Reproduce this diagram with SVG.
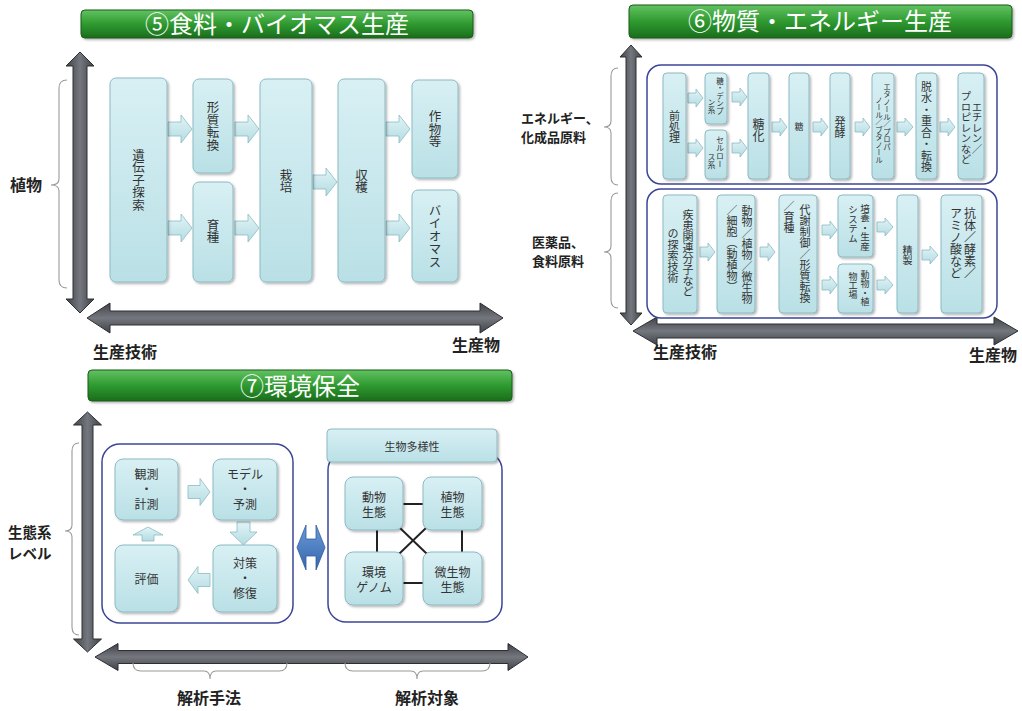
<svg xmlns="http://www.w3.org/2000/svg" width="1022" height="711" viewBox="0 0 1022 711">
<defs>
<linearGradient id="gBox" x1="0" y1="0" x2="0" y2="1"><stop offset="0" stop-color="#d8f0f4"/><stop offset="1" stop-color="#b9e0e6"/></linearGradient>
<linearGradient id="gArr" x1="0" y1="0" x2="0" y2="1"><stop offset="0" stop-color="#e2f4f7"/><stop offset="1" stop-color="#b3dce2"/></linearGradient>
<linearGradient id="gGreen" x1="0" y1="0" x2="0" y2="1"><stop offset="0" stop-color="#62c262"/><stop offset="0.5" stop-color="#2f9a30"/><stop offset="1" stop-color="#1a6d1b"/></linearGradient>
<linearGradient id="gAxV" x1="0" y1="0" x2="1" y2="0"><stop offset="0" stop-color="#3f4247"/><stop offset="0.5" stop-color="#74777d"/><stop offset="1" stop-color="#3f4247"/></linearGradient>
<linearGradient id="gAxH" x1="0" y1="0" x2="0" y2="1"><stop offset="0" stop-color="#3f4247"/><stop offset="0.5" stop-color="#74777d"/><stop offset="1" stop-color="#3f4247"/></linearGradient>
<linearGradient id="gBlue" x1="0" y1="0" x2="0" y2="1"><stop offset="0" stop-color="#6a9ad6"/><stop offset="1" stop-color="#3566ad"/></linearGradient>
<filter id="sh" x="-20%" y="-20%" width="140%" height="140%"><feDropShadow dx="1.5" dy="1.5" stdDeviation="1" flood-color="#000" flood-opacity="0.3"/></filter>
<style>
.box{fill:url(#gBox);stroke:#8cbac2;stroke-width:1;filter:url(#sh)}
.arr{fill:url(#gArr);stroke:#8cbac2;stroke-width:0.8}
.t{font-family:"Noto Sans CJK JP","Noto Sans CJK SC",sans-serif;fill:#333}
.v{writing-mode:vertical-rl;text-anchor:middle}
.vs{writing-mode:vertical-rl;text-anchor:start}
.h{text-anchor:middle}
.lbl{font-family:"Noto Sans CJK JP",sans-serif;font-weight:bold;fill:#222;font-size:16px}
.sl{font-size:13px}
.ttl{font-family:"Noto Sans CJK JP",sans-serif;fill:#fff;font-size:24px;text-anchor:middle}
.bar{fill:url(#gGreen);stroke:#1b5a1c;stroke-width:1;filter:url(#sh)}
.cont{fill:#fff;stroke:#3b4597;stroke-width:1.5}
.brace{fill:none;stroke:#9a9a9a;stroke-width:1.1}
.axv{fill:url(#gAxV);stroke:#2c2e32;stroke-width:1}
.axh{fill:url(#gAxH);stroke:#2c2e32;stroke-width:1}
.ln{stroke:#222;stroke-width:2}
</style>
</defs>
<rect width="1022" height="711" fill="#fff"/>

<!-- ===== Panel 5 ===== -->
<g id="p5-title"><rect class="bar" x="81" y="10" width="392" height="28" rx="4"/><text class="ttl" x="277" y="33">⑤食料・バイオマス生産</text></g>
<g id="p5-axes">
<polygon class="axv" points="80,52 94,66 87,66 87,299 94,299 80,313 66,299 73,299 73,66 66,66"/>
<polygon class="axh" points="87,318 110,303 110,311 480,311 480,303 503,318 480,333 480,325 110,325 110,333"/>
<path class="brace" d="M67,80 Q59,80 59,88 L59,179 Q59,185 51,185 Q59,185 59,191 L59,280 Q59,288 67,288"/>
<text class="lbl" x="10" y="191">植物</text>
<text class="lbl" x="93" y="358">生産技術</text>
<text class="lbl" x="452" y="351">生産物</text>
</g>
<g id="p5-connectors">
<path class="arr" d="M168,122 L181,122 L181,115 L192,129 L181,143 L181,136 L168,136 Z"/>
<path class="arr" d="M168,221 L181,221 L181,214 L192,228 L181,242 L181,235 L168,235 Z"/>
<path class="arr" d="M235,122 L248,122 L248,115 L259,129 L248,143 L248,136 L235,136 Z"/>
<path class="arr" d="M235,221 L248,221 L248,214 L259,228 L248,242 L248,235 L235,235 Z"/>
<path class="arr" d="M313,175 L326,175 L326,168 L337,182 L326,196 L326,189 L313,189 Z"/>
<path class="arr" d="M386,122 L399,122 L399,115 L410,129 L399,143 L399,136 L386,136 Z"/>
<path class="arr" d="M386,221 L399,221 L399,214 L410,228 L399,242 L399,235 L386,235 Z"/>
</g>
<g id="p5-gene"><rect class="box" x="110" y="78" width="57" height="204" rx="6"/><text class="t v" x="138.5" y="180" font-size="12.5">遺伝子探索</text></g>
<g id="p5-trans"><rect class="box" x="193" y="79" width="40" height="94" rx="6"/><text class="t v" x="213" y="126" font-size="12.5">形質転換</text></g>
<g id="p5-breed"><rect class="box" x="193" y="182" width="40" height="100" rx="6"/><text class="t v" x="213" y="231" font-size="12.5">育種</text></g>
<g id="p5-cult"><rect class="box" x="260" y="79" width="52" height="203" rx="6"/><text class="t v" x="286" y="181" font-size="12.5">栽培</text></g>
<g id="p5-harv"><rect class="box" x="338" y="79" width="47" height="203" rx="6"/><text class="t v" x="361.5" y="181" font-size="12.5">収穫</text></g>
<g id="p5-crop"><rect class="box" x="412" y="80" width="46" height="98" rx="6"/><text class="t v" x="435" y="129" font-size="12.5">作物等</text></g>
<g id="p5-bio"><rect class="box" x="412" y="190" width="46" height="92" rx="6"/><text class="t v" x="435" y="236" font-size="12.5" letter-spacing="0.5">バイオマス</text></g>

<!-- ===== Panel 6 ===== -->
<g id="p6-title"><rect class="bar" x="629" y="5" width="383" height="33" rx="4"/><text class="ttl" x="820" y="30">⑥物質・エネルギー生産</text></g>
<g id="p6-axes">
<polygon class="axv" points="631,45 642,57 636,57 636,313 642,313 631,325 620,313 626,313 626,57 620,57"/>
<polygon class="axh" points="633,331 657,317 657,324 994,324 994,317 1018,331 994,345 994,338 657,338 657,345"/>
<path class="brace" d="M618,68 Q611,68 611,76 L611,121 Q611,127 604,127 Q611,127 611,133 L611,177 Q611,185 618,185"/>
<path class="brace" d="M618,193 Q611,193 611,201 L611,246 Q611,252 604,252 Q611,252 611,258 L611,300 Q611,308 618,308"/>
<text class="lbl sl" x="521" y="123">エネルギー、</text>
<text class="lbl sl" x="521" y="142">化成品原料</text>
<text class="lbl sl" x="532" y="247">医薬品、</text>
<text class="lbl sl" x="532" y="266">食料原料</text>
<text class="lbl" x="653" y="358">生産技術</text>
<text class="lbl" x="969" y="361">生産物</text>
</g>
<g id="p6-upper-container"><rect class="cont" x="647" y="65" width="350" height="119" rx="14"/></g>
<g id="p6-lower-container"><rect class="cont" x="647" y="189" width="350" height="129" rx="14"/></g>
<g id="p6-connectors">
<path class="arr" d="M688,93 L696,93 L696,89 L703,98 L696,107 L696,103 L688,103 Z"/>
<path class="arr" d="M688,143 L696,143 L696,139 L703,148 L696,157 L696,153 L688,153 Z"/>
<path class="arr" d="M732,92 L740,92 L740,88 L747,97 L740,106 L740,102 L732,102 Z"/>
<path class="arr" d="M732,143 L740,143 L740,139 L747,148 L740,157 L740,153 L732,153 Z"/>
<path class="arr" d="M772,122 L780,122 L780,118 L787,127 L780,136 L780,132 L772,132 Z"/>
<path class="arr" d="M813,122 L821,122 L821,118 L828,127 L821,136 L821,132 L813,132 Z"/>
<path class="arr" d="M855,122 L863,122 L863,118 L870,127 L863,136 L863,132 L855,132 Z"/>
<path class="arr" d="M897,122 L905,122 L905,118 L913,127 L905,136 L905,132 L897,132 Z"/>
<path class="arr" d="M940,122 L948,122 L948,118 L955,127 L948,136 L948,132 L940,132 Z"/>
<path class="arr" d="M700,247 L708,247 L708,243 L715,252 L708,261 L708,257 L700,257 Z"/>
<path class="arr" d="M760,247 L768,247 L768,243 L775,252 L768,261 L768,257 L760,257 Z"/>
<path class="arr" d="M822,225 L830,225 L830,221 L837,230 L830,239 L830,235 L822,235 Z"/>
<path class="arr" d="M822,280 L830,280 L830,276 L837,285 L830,294 L830,290 L822,290 Z"/>
<path class="arr" d="M877,222 L885,222 L885,218 L893,227 L885,236 L885,232 L877,232 Z"/>
<path class="arr" d="M877,280 L885,280 L885,276 L893,285 L885,294 L885,290 L877,290 Z"/>
<path class="arr" d="M922,250 L930,250 L930,246 L938,255 L930,264 L930,260 L922,260 Z"/>
</g>
<g id="p6-pre"><rect class="box" x="663" y="73" width="23" height="106" rx="4"/><text class="t v" x="674.5" y="127" font-size="11">前処理</text></g>
<g id="p6-starch"><rect class="box" x="705" y="73" width="22" height="51" rx="4"/><text class="t v" x="720" y="96" font-size="7.5">糖・デンプ</text><text class="t v" x="711.5" y="106" font-size="7.5">ン系</text></g>
<g id="p6-cellulose"><rect class="box" x="705" y="130" width="22" height="49" rx="4"/><text class="t v" x="720" y="152" font-size="8">セルロー</text><text class="t v" x="711.5" y="161" font-size="8">ス系</text></g>
<g id="p6-sacch"><rect class="box" x="748" y="73" width="21" height="106" rx="4"/><text class="t v" x="758.5" y="130" font-size="12">糖化</text></g>
<g id="p6-sugar"><rect class="box" x="789" y="73" width="20" height="106" rx="4"/><text class="t v" x="799" y="127" font-size="9">糖</text></g>
<g id="p6-ferm"><rect class="box" x="830" y="73" width="20" height="106" rx="4"/><text class="t v" x="840" y="127" font-size="11">発酵</text></g>
<g id="p6-alcohol"><rect class="box" x="872" y="73" width="22" height="106" rx="4"/><text class="t v" x="887" y="117" font-size="7.5">エタノール／プロパ</text><text class="t v" x="879" y="130" font-size="7.5">ノール／ブタノール</text></g>
<g id="p6-dehyd"><rect class="box" x="916" y="73" width="21" height="106" rx="4"/><text class="t v" x="926.5" y="127" font-size="11" letter-spacing="0.5">脱水・重合・転換</text></g>
<g id="p6-ethylene"><rect class="box" x="958" y="73" width="26" height="106" rx="4"/><text class="t v" x="977" y="128" font-size="10.5">エチレン／</text><text class="t v" x="966" y="128" font-size="10.5">プロピレンなど</text></g>
<g id="p6-disease"><rect class="box" x="663" y="195" width="34" height="118" rx="4"/><text class="t v" x="688" y="253" font-size="11">疾患関連分子など</text><text class="t v" x="673" y="256" font-size="11">の探索技術</text></g>
<g id="p6-organism"><rect class="box" x="717" y="195" width="38" height="118" rx="4"/><text class="t v" x="747" y="255" font-size="11">動物／植物／微生物</text><text class="t v" x="732" y="248" font-size="11">／細胞（動植物）</text></g>
<g id="p6-metab"><rect class="box" x="779" y="195" width="38" height="118" rx="4"/><text class="t v" x="805" y="254" font-size="11">代謝制御／形質転換</text><text class="t vs" x="789" y="200" font-size="11">／育種</text></g>
<g id="p6-culture"><rect class="box" x="838" y="195" width="35" height="62" rx="4"/><text class="t v" x="865" y="227" font-size="9.5">培養・生産</text><text class="t v" x="853" y="224" font-size="9.5">システム</text></g>
<g id="p6-factory"><rect class="box" x="838" y="264" width="35" height="49" rx="4"/><text class="t v" x="865" y="288" font-size="9">動物・植</text><text class="t v" x="853" y="286" font-size="9">物工場</text></g>
<g id="p6-purify"><rect class="box" x="897" y="195" width="21" height="118" rx="4"/><text class="t v" x="907.5" y="255" font-size="10">精製</text></g>
<g id="p6-antibody"><rect class="box" x="941" y="195" width="41" height="118" rx="4"/><text class="t v" x="970" y="243" font-size="12">抗体／酵素／</text><text class="t v" x="956" y="243" font-size="12">アミノ酸など</text></g>

<!-- ===== Panel 7 ===== -->
<g id="p7-title"><rect class="bar" x="88" y="370" width="424" height="31" rx="4"/><text class="ttl" x="300" y="395">⑦環境保全</text></g>
<g id="p7-axes">
<polygon class="axv" points="87.5,412 101.5,425 93,425 93,639 101.5,639 87.5,652 73.5,639 82,639 82,425 73.5,425"/>
<polygon class="axh" points="95,657 118,643.5 118,650.5 508,650.5 508,643.5 528,657 508,670.5 508,663.5 118,663.5 118,670.5"/>
<path class="brace" d="M79,443 Q72,443 72,451 L72,525 Q72,531 65,531 Q72,531 72,537 L72,627 Q72,635 79,635"/>
<path class="brace" d="M133,663 Q133,671 141,671 L204,671 Q210,671 210,679 Q210,671 216,671 L279,671 Q287,671 287,663"/>
<path class="brace" d="M345,663 Q345,671 353,671 L411,671 Q417,671 417,679 Q417,671 423,671 L482,671 Q490,671 490,663"/>
<text class="lbl" x="8" y="538" style="font-size:14.5px">生態系</text>
<text class="lbl" x="8" y="559" style="font-size:14.5px">レベル</text>
<text class="lbl h" x="209" y="704">解析手法</text>
<text class="lbl h" x="427" y="704">解析対象</text>
</g>
<g id="p7-cycle-container"><rect class="cont" x="102" y="444" width="191" height="179" rx="18"/></g>
<g id="p7-connectors">
<path class="arr" d="M188,485.5 L200,485.5 L200,478.5 L210,492 L200,505.5 L200,498.5 L188,498.5 Z"/>
<path class="arr" d="M237,522 L237,532 L230,532 L243.5,545 L257,532 L250,532 L250,522 Z"/>
<path class="arr" d="M210,573.5 L198,573.5 L198,566.5 L188,580 L198,593.5 L198,586.5 L210,586.5 Z"/>
<path class="arr" d="M142,541 L142,535 L133,535 L148,527 L163,535 L154,535 L154,541 Z"/>
<path d="M297,547.5 L306,525 L306,539 L316,539 L316,525 L325,547.5 L316,570 L316,556 L306,556 L306,570 Z" fill="url(#gBlue)" stroke="#2f5c9e" stroke-width="0.8"/>
</g>
<g id="p7-observe"><rect class="box" x="115" y="459" width="63" height="61" rx="8"/><text class="t h" font-size="12"><tspan x="146.5" y="479">観測</tspan><tspan x="146.5" y="494">・</tspan><tspan x="146.5" y="509">計測</tspan></text></g>
<g id="p7-model"><rect class="box" x="213" y="459" width="64" height="61" rx="8"/><text class="t h" font-size="12"><tspan x="245" y="479">モデル</tspan><tspan x="245" y="494">・</tspan><tspan x="245" y="509">予測</tspan></text></g>
<g id="p7-eval"><rect class="box" x="115" y="545" width="63" height="67" rx="8"/><text class="t h" x="146.5" y="584" font-size="12">評価</text></g>
<g id="p7-measure"><rect class="box" x="213" y="545" width="64" height="67" rx="8"/><text class="t h" font-size="12"><tspan x="245" y="568">対策</tspan><tspan x="245" y="583">・</tspan><tspan x="245" y="598">修復</tspan></text></g>
<g id="p7-bio-container"><rect class="cont" x="328" y="452" width="174" height="170" rx="18"/></g>
<g id="p7-bio-header"><rect class="box" x="327" y="429" width="170" height="33" rx="4"/><text class="t h" x="412" y="451" font-size="11">生物多様性</text></g>
<g id="p7-bio-links">
<line class="ln" x1="374" y1="504" x2="452" y2="504"/>
<line class="ln" x1="374" y1="583" x2="452" y2="583"/>
<line class="ln" x1="377" y1="503" x2="377" y2="578"/>
<line class="ln" x1="462" y1="503" x2="462" y2="578"/>
<line class="ln" x1="374" y1="503" x2="452" y2="578"/>
<line class="ln" x1="452" y1="503" x2="374" y2="578"/>
</g>
<g id="p7-animal"><rect class="box" x="345" y="477" width="58" height="53" rx="8"/><text class="t h" font-size="12"><tspan x="374" y="502">動物</tspan><tspan x="374" y="517">生態</tspan></text></g>
<g id="p7-plant"><rect class="box" x="423" y="477" width="59" height="53" rx="8"/><text class="t h" font-size="12"><tspan x="452.5" y="502">植物</tspan><tspan x="452.5" y="517">生態</tspan></text></g>
<g id="p7-genome"><rect class="box" x="345" y="552" width="58" height="53" rx="8"/><text class="t h" font-size="12"><tspan x="374" y="577">環境</tspan><tspan x="374" y="592">ゲノム</tspan></text></g>
<g id="p7-microbe"><rect class="box" x="423" y="552" width="59" height="53" rx="8"/><text class="t h" font-size="12"><tspan x="452.5" y="577">微生物</tspan><tspan x="452.5" y="592">生態</tspan></text></g>
</svg>
